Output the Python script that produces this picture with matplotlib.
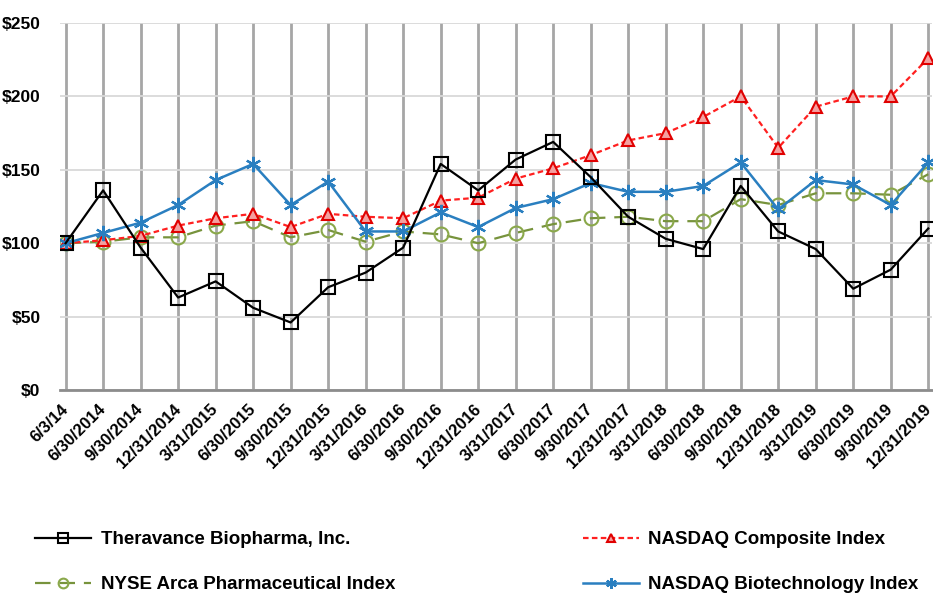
import matplotlib.pyplot as plt
from matplotlib.transforms import ScaledTranslation

plt.rcParams['font.family'] = ['Liberation Sans', 'DejaVu Sans']

dates = ["6/3/14", "6/30/2014", "9/30/2014", "12/31/2014", "3/31/2015", "6/30/2015",
         "9/30/2015", "12/31/2015", "3/31/2016", "6/30/2016", "9/30/2016", "12/31/2016",
         "3/31/2017", "6/30/2017", "9/30/2017", "12/31/2017", "3/31/2018", "6/30/2018",
         "9/30/2018", "12/31/2018", "3/31/2019", "6/30/2019", "9/30/2019", "12/31/2019"]

theravance = [100, 136, 97, 63, 74, 56, 46, 70, 80, 97, 154, 136, 157, 169, 145,
              118, 103, 96, 139, 108, 96, 69, 82, 110]
nasdaq_comp = [100, 102, 105, 112, 117, 120, 111, 120, 118, 117, 129, 131, 144, 151, 160,
               170, 175, 186, 200, 165, 193, 200, 200, 226]
nyse_pharma = [100, 101, 104, 104, 112, 115, 104, 109, 101, 108, 106, 100, 107, 113, 117,
               118, 115, 115, 130, 126, 134, 134, 133, 147]
nasdaq_bio = [100, 107, 114, 126, 143, 154, 126, 142, 108, 108, 121, 111, 124, 130, 141,
              135, 135, 139, 155, 123, 143, 140, 126, 155]

fig = plt.figure(figsize=(9.33, 5.99), dpi=100)
ax = fig.add_axes([60 / 933, 1 - 390 / 599, 872 / 933, 367 / 599])

x = list(range(len(theravance)))
ax.plot(x, theravance, color='black', lw=1.6, marker='s', ms=10, mfc='none', mec='black',
        mew=1.5, label='Theravance Biopharma, Inc.', zorder=5)
ax.plot(x, nyse_pharma, color='#77933c', lw=1.6, ls=(0, (7, 4)), marker='o', ms=10,
        mfc='none', mec='#8aa84a', mew=1.5, label='NYSE Arca Pharmaceutical Index', zorder=3)
ax.plot(x, nasdaq_comp, color='#ff2020', lw=1.6, ls=(0, (2.5, 1.5)), marker='^', ms=9,
        mfc='#f4a0a0', mec='#e00000', mew=1.5, label='NASDAQ Composite Index', zorder=4)
ax.plot(x, nasdaq_bio, color='#2a7fc0', lw=1.8, marker=(6, 2, 0), ms=11, mec='#2a7fc0',
        mew=1.6, label='NASDAQ Biotechnology Index', zorder=4)

ax.set_ylim(0, 250)
ax.set_xlim(-0.15, len(x) - 1 + 0.1)
ax.set_yticks(range(0, 251, 50))
ax.set_yticklabels([f'${v}' for v in range(0, 251, 50)], fontsize=12.5, fontweight='bold')
ax.set_xticks(x)
ax.set_xticklabels(dates, rotation=45, ha='right', va='center', rotation_mode='anchor',
                   fontsize=12, fontweight='bold')
shift = ScaledTranslation(-6 / 100, 0, fig.dpi_scale_trans)
for lab in ax.get_xticklabels():
    lab.set_transform(lab.get_transform() + shift)
ax.tick_params(axis='both', length=0)
ax.tick_params(axis='x', pad=12)
ax.tick_params(axis='y', pad=14)

for s in ['top', 'right', 'left']:
    ax.spines[s].set_visible(False)
ax.spines['bottom'].set_color('#8c8c8c')
ax.spines['bottom'].set_linewidth(2)

ax.yaxis.grid(True, color='#d9d9d9', lw=1.3)
ax.xaxis.grid(True, color='#a6a6a6', lw=2)
ax.set_axisbelow(True)

fig.legend(loc='upper left', bbox_to_anchor=(35 / 933, 1 - 531 / 599), ncol=2, frameon=False,
           prop={'weight': 'bold', 'size': 13.5}, handlelength=3.0, handletextpad=0.5,
           columnspacing=10.0, labelspacing=1.5, borderpad=0, borderaxespad=0,
           markerscale=0.7)

fig.savefig('out.png', dpi=100)
